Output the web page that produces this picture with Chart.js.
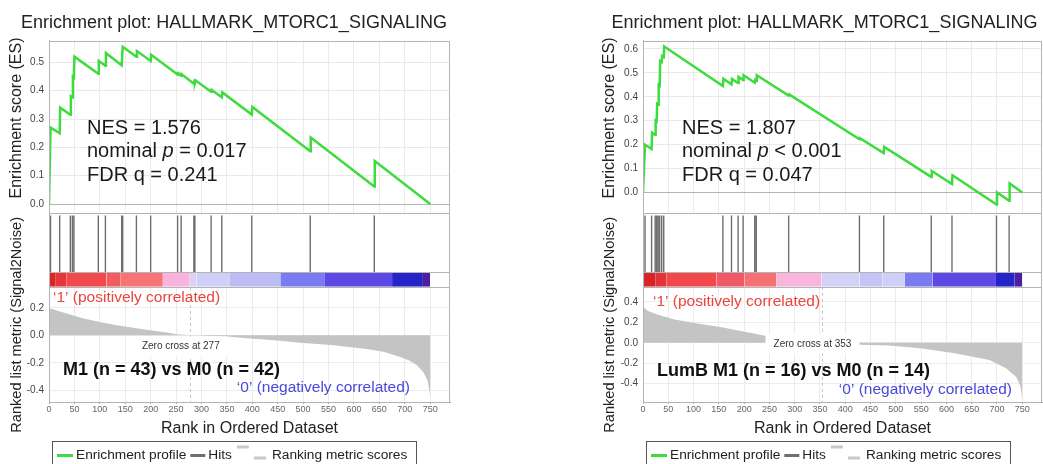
<!DOCTYPE html>
<html>
<head>
<meta charset="utf-8">
<script src="https://cdn.jsdelivr.net/npm/chart.js@4.4.0/dist/chart.umd.min.js"></script>
<style>
  html, body { margin: 0; padding: 0; background: #fff; overflow: hidden; }
  body { width: 1043px; height: 464px; position: relative; }
  canvas { position: absolute; top: 0; }
  #chartLeft { left: 0; }
  #chartRight { left: 590px; }
</style>
</head>
<body>
<canvas id="chartLeft" width="468" height="464"></canvas>
<canvas id="chartRight" width="469" height="464"></canvas>
<script>
// ---- left plot: all samples ----
const esRanksLeft  = [0, 3, 21, 22, 42, 43, 46, 47, 49, 50, 97, 98, 111, 112, 143, 145, 172, 173, 200, 201, 253, 254, 260, 261, 285, 286, 287, 288, 319, 320, 340, 341, 399, 400, 514, 515, 640, 641, 750];
const esScoresLeft = [0, 0.27, 0.25, 0.34, 0.315, 0.38, 0.376, 0.45, 0.447, 0.52, 0.46, 0.505, 0.488, 0.533, 0.49, 0.555, 0.52, 0.54, 0.505, 0.527, 0.457, 0.462, 0.453, 0.458, 0.425, 0.432, 0.43, 0.437, 0.396, 0.403, 0.377, 0.394, 0.316, 0.343, 0.186, 0.235, 0.062, 0.152, 0];
const hitRanksLeft = [3, 21, 42, 46, 49, 97, 111, 143, 145, 172, 200, 253, 260, 285, 287, 319, 340, 399, 514, 640];
const metricRanksLeft  = [0, 8, 20, 35, 68, 100, 133, 169, 199, 232, 251, 277, 320, 355, 396, 450, 494, 560, 625, 658, 691, 710, 724, 737, 745, 750];
const metricScoresLeft = [0.195, 0.19, 0.175, 0.159, 0.122, 0.098, 0.074, 0.054, 0.037, 0.02, 0.008, 0, -0.005, -0.01, -0.023, -0.038, -0.053, -0.072, -0.1, -0.12, -0.157, -0.185, -0.218, -0.27, -0.33, -0.44];
const colorEdgesLeft = [0, 12, 35, 113, 140, 224, 277, 290, 356, 455, 543, 675, 734, 750];
const colorFillsLeft = ['#d92428', '#e8363a', '#f14a4e', '#f35c60', '#f67476', '#f8b4dc', '#ddd0f4', '#cfd0f8', '#bdbdf6', '#7b7bf1', '#5b48e5', '#2424c8', '#4a1fa6'];
const zeroCrossLeft = 277;
const statsLeft = ['NES = 1.576', 'nominal |p| = 0.017', 'FDR q = 0.241'];
const groupLeft = 'M1 (n = 43) vs M0 (n = 42)';

// ---- right plot: LumB ----
const esRanksRight  = [0, 4, 17, 18, 24, 25, 27, 28, 30, 31, 33, 34, 37, 38, 41, 42, 158, 159, 175, 176, 188, 189, 198, 199, 221, 222, 224, 225, 288, 289, 428, 429, 476, 477, 570, 571, 611, 612, 699, 700, 724, 725, 750];
const esScoresRight = [0, 0.2, 0.182, 0.25, 0.241, 0.3, 0.297, 0.37, 0.367, 0.45, 0.447, 0.55, 0.546, 0.57, 0.566, 0.61, 0.445, 0.475, 0.452, 0.475, 0.458, 0.483, 0.47, 0.49, 0.459, 0.47, 0.466, 0.49, 0.405, 0.41, 0.222, 0.227, 0.165, 0.19, 0.065, 0.09, 0.035, 0.072, -0.05, 0, -0.035, 0.038, 0];
const hitRanksRight = [4, 17, 24, 27, 30, 33, 37, 41, 158, 175, 188, 198, 221, 224, 288, 428, 476, 570, 611, 699, 724];
const metricRanksRight  = [0, 10, 27, 60, 93, 158, 224, 243, 300, 353, 428, 487, 553, 619, 685, 718, 738, 746, 750];
const metricScoresRight = [0.35, 0.31, 0.28, 0.23, 0.2, 0.15, 0.085, 0.065, 0.03, 0, -0.02, -0.028, -0.057, -0.106, -0.17, -0.25, -0.335, -0.42, -0.545];
const colorEdgesRight = [0, 24, 47, 145, 201, 264, 353, 428, 474, 517, 573, 698, 734, 750];
const colorFillsRight = ['#d82428', '#e23438', '#f2484c', '#f05a66', '#f57274', '#f8b6dc', '#d2d2f8', '#c4c4f5', '#cfd0f8', '#7b7bf1', '#5b48e5', '#2424c8', '#4a1fa6'];
const zeroCrossRight = 353;
const statsRight = ['NES = 1.807', 'nominal |p| < 0.001', 'FDR q = 0.047'];
const groupRight = 'LumB M1 (n = 16) vs M0 (n = 14)';

// ---- shared labels ----
const plotTitle = 'Enrichment plot: HALLMARK_MTORC1_SIGNALING';
const legendNames = ['Enrichment profile', 'Hits', 'Ranking metric scores'];
const legendColors = ['#3ddc3d', '#6e6e6e', '#c8c8c8'];

const FONT = "'Liberation Sans', Arial, sans-serif";
Chart.defaults.font.family = FONT;
Chart.defaults.color = '#222';

const HIT_LOW = 0.2, HIT_HIGH = 0.97;

function drawMixed(ctx, line, x, y, size) {
  // parts between | are drawn italic
  const parts = line.split('|');
  let cx = x;
  parts.forEach((p, i) => {
    ctx.font = (i % 2 ? 'italic ' : '') + size + 'px ' + FONT;
    ctx.fillText(p, cx, y);
    cx += ctx.measureText(p).width;
  });
}

function makeGsea(id, d, look) {
  const datasets = [
    {
      label: legendNames[0], yAxisID: 'yES',
      data: d.esRanks.map((r, i) => ({x: r, y: d.esScores[i]})),
      borderColor: legendColors[0], borderWidth: 2.5, pointRadius: 0, tension: 0, fill: false
    },
    {
      label: legendNames[1], yAxisID: 'yHits',
      data: d.hits.flatMap(r => [{x: r, y: HIT_LOW}, {x: r, y: HIT_HIGH}, {x: r, y: null}]),
      borderColor: legendColors[1], borderWidth: 1.4, pointRadius: 0, spanGaps: false, fill: false
    },
    {
      label: legendNames[2], yAxisID: 'yMetric',
      data: d.metricRanks.map((r, i) => ({x: r, y: d.metricScores[i]})),
      borderColor: 'rgba(0,0,0,0)', borderWidth: 1, backgroundColor: '#c4c4c4',
      pointRadius: 0, tension: 0, fill: 'origin'
    }
  ];
  d.colorFills.forEach((c, i) => {
    datasets.push({
      label: 'bar' + i, yAxisID: 'yHits',
      data: [{x: d.colorEdges[i], y: HIT_LOW}, {x: d.colorEdges[i + 1], y: HIT_LOW}],
      borderColor: 'rgba(0,0,0,0)', borderWidth: 1, backgroundColor: c,
      pointRadius: 0, fill: 'origin'
    });
  });

  const decor = {
    id: 'decor',
    beforeDatasetsDraw(chart) {
      const {ctx, chartArea: a, scales: {x, yHits, yMetric}} = chart;
      ctx.save();
      ctx.fillStyle = '#fff';
      ctx.fillRect(a.left + 1, yHits.top, a.right - a.left - 1, yHits.bottom - yHits.top);
      const zx = x.getPixelForValue(d.zeroCross);
      ctx.strokeStyle = '#c4c4c4';
      ctx.lineWidth = 1;
      ctx.setLineDash([3, 3]);
      ctx.beginPath();
      ctx.moveTo(Math.round(zx) + 0.5, yMetric.top);
      ctx.lineTo(Math.round(zx) + 0.5, yMetric.bottom);
      ctx.stroke();
      ctx.restore();
    },
    afterDatasetsDraw(chart) {
      const {ctx, chartArea: a, scales: {x, yHits, yMetric}} = chart;
      ctx.save();
      // zero cross label
      const zx = x.getPixelForValue(d.zeroCross) + look.zeroDx;
      const zy = yMetric.getPixelForValue(0);
      ctx.fillStyle = '#fff';
      ctx.fillRect(zx - 47, zy + look.zeroBoxTop, 94, 20);
      ctx.fillStyle = '#333';
      ctx.font = '10px ' + FONT;
      ctx.textAlign = 'center';
      ctx.textBaseline = 'middle';
      ctx.fillText('Zero cross at ' + d.zeroCross, zx, zy + look.zeroTextDy);

      // panel separators and frame
      ctx.strokeStyle = '#b4b4b4';
      ctx.lineWidth = 1;
      const hline = (py) => {
        const yy = Math.round(py) + 0.5;
        ctx.beginPath(); ctx.moveTo(a.left, yy); ctx.lineTo(a.right, yy); ctx.stroke();
      };
      hline(yHits.top);
      hline(yHits.getPixelForValue(HIT_LOW));
      hline(yHits.bottom);
      ctx.strokeRect(Math.round(a.left) + 0.5, Math.round(a.top) + 0.5,
        Math.round(a.right - a.left) - 1, Math.round(a.bottom - a.top));

      // statistics block
      ctx.fillStyle = '#1a1a1a';
      ctx.textAlign = 'left';
      d.stats.forEach((line, i) => {
        drawMixed(ctx, line, a.left + look.statsDx, look.statsY + i * 23.5, 20);
      });

      // group comparison and correlation labels
      ctx.font = 'bold 18px ' + FONT;
      ctx.fillStyle = '#111';
      ctx.fillText(d.group, a.left + look.groupDx, look.groupY);
      ctx.font = '15.5px ' + FONT;
      ctx.fillStyle = '#e8453c';
      ctx.fillText('\u20181\u2019 (positively correlated)', a.left + look.posDx, look.posY);
      ctx.fillStyle = '#4848de';
      ctx.textAlign = 'right';
      ctx.fillText('\u20180\u2019 (negatively correlated)', look.negRight, look.negY);
      ctx.restore();
    },
    afterDraw(chart) {
      const {ctx, chartArea: a, scales: {yES, yMetric}} = chart;
      ctx.save();
      ctx.textBaseline = 'middle';

      // plot title
      ctx.fillStyle = '#222';
      ctx.textAlign = 'center';
      ctx.font = '18px ' + FONT;
      ctx.fillText(plotTitle, look.titleCx, 23);

      // legend row with frame
      const ly = 455.5;
      ctx.textAlign = 'left';
      ctx.font = '13.7px ' + FONT;
      let cx = a.left + 8;
      const boxLeft = a.left + 3;
      ctx.fillStyle = legendColors[0];
      ctx.fillRect(cx, ly - 1.5, 16, 3);
      cx += 19;
      ctx.fillStyle = '#222';
      ctx.fillText(legendNames[0], cx, ly);
      cx += ctx.measureText(legendNames[0]).width + 4;
      ctx.fillStyle = legendColors[1];
      ctx.fillRect(cx, ly - 1.5, 15, 3);
      cx += 18;
      ctx.fillStyle = '#222';
      ctx.fillText(legendNames[1], cx, ly);
      cx += ctx.measureText(legendNames[1]).width + 5;
      ctx.fillStyle = legendColors[2];
      ctx.fillRect(cx, ly - 10, 12, 3);
      cx += 17;
      ctx.fillRect(cx, ly + 1, 12, 3);
      cx += 18;
      ctx.fillStyle = '#222';
      ctx.fillText(legendNames[2], cx, ly);
      cx += ctx.measureText(legendNames[2]).width + 9;
      ctx.strokeStyle = '#555';
      ctx.lineWidth = 1;
      ctx.strokeRect(Math.round(boxLeft) + 0.5, 441.5, Math.round(cx - boxLeft), 40);

      // axis titles
      ctx.fillStyle = '#222';
      ctx.textAlign = 'center';
      ctx.font = '16px ' + FONT;
      ctx.translate(look.titleX, (yES.top + yES.bottom) / 2 - 9);
      ctx.rotate(-Math.PI / 2);
      ctx.fillText('Enrichment score (ES)', 0, 0);
      ctx.restore();
      ctx.save();
      ctx.fillStyle = '#222';
      ctx.textAlign = 'center';
      ctx.textBaseline = 'middle';
      ctx.font = '14.6px ' + FONT;
      ctx.translate(look.titleX, yMetric.top + 38);
      ctx.rotate(-Math.PI / 2);
      ctx.fillText('Ranked list metric (Signal2Noise)', 0, 0);
      ctx.restore();
    }
  };

  const fixWidth = s => { s.width = look.axisWidth; };

  return new Chart(document.getElementById(id), {
    type: 'line',
    data: { datasets },
    options: {
      responsive: false,
      animation: false,
      events: [],
      layout: { padding: { left: 0, right: look.padRight, top: 40.6, bottom: 22 } },
      plugins: {
        title: { display: false },
        legend: { display: false },
        tooltip: { enabled: false }
      },
      scales: {
        x: {
          type: 'linear', position: 'bottom', min: 0, max: 789, offset: false,
          ticks: {
            stepSize: 50, includeBounds: false, autoSkip: false, maxRotation: 0,
            font: { size: 9 }, color: '#666', padding: 0
          },
          grid: { color: '#ebebeb', tickLength: 2, tickColor: '#aaa' },
          border: { color: '#aaa' },
          title: {
            display: true, text: 'Rank in Ordered Dataset', color: '#222',
            font: { size: 16 }, padding: { top: 4, bottom: 4 }
          }
        },
        yMetric: {
          type: 'linear', axis: 'y', position: 'left', stack: 'gsea', stackWeight: 115,
          min: d.metricMin, max: d.metricMax,
          ticks: {
            stepSize: 0.2, includeBounds: false, font: { size: 10 }, color: '#444', padding: 5,
            callback: v => v.toFixed(1)
          },
          grid: { color: '#ececec', drawTicks: false },
          border: { color: '#aaa' },
          afterFit: fixWidth
        },
        yHits: {
          type: 'linear', axis: 'y', position: 'left', stack: 'gsea', stackWeight: 73.4,
          min: 0, max: 1,
          ticks: { display: false },
          grid: { display: false, drawTicks: false },
          border: { color: '#aaa' },
          afterFit: fixWidth
        },
        yES: {
          type: 'linear', axis: 'y', position: 'left', stack: 'gsea', stackWeight: 172.6,
          min: d.esMin, max: d.esMax,
          ticks: {
            stepSize: 0.1, includeBounds: false, font: { size: 10 }, color: '#444', padding: 5,
            callback: v => v.toFixed(1)
          },
          grid: {
            drawTicks: false,
            color: c => (c.tick && Math.abs(c.tick.value) < 1e-9) ? '#b4b4b4' : '#e9e9e9'
          },
          border: { color: '#aaa' },
          afterFit: fixWidth
        }
      }
    },
    plugins: [decor]
  });
}

makeGsea('chartLeft', {
  esRanks: esRanksLeft, esScores: esScoresLeft, hits: hitRanksLeft,
  metricRanks: metricRanksLeft, metricScores: metricScoresLeft,
  colorEdges: colorEdgesLeft, colorFills: colorFillsLeft,
  zeroCross: zeroCrossLeft, stats: statsLeft, group: groupLeft,
  esMin: -0.033, esMax: 0.577, metricMin: -0.485, metricMax: 0.353
}, {
  axisWidth: 49, padRight: 18, titleX: 16.5, titleCx: 234,
  statsDx: 38, statsY: 128, groupDx: 14, groupY: 370,
  posDx: 4, posY: 298, negRight: 410, negY: 388,
  zeroDx: -9, zeroTextDy: 10.7, zeroBoxTop: 1
});

makeGsea('chartRight', {
  esRanks: esRanksRight, esScores: esScoresRight, hits: hitRanksRight,
  metricRanks: metricRanksRight, metricScores: metricScoresRight,
  colorEdges: colorEdgesRight, colorFills: colorFillsRight,
  zeroCross: zeroCrossRight, stats: statsRight, group: groupRight,
  esMin: -0.0875, esMax: 0.635, metricMin: -0.58, metricMax: 0.547
}, {
  axisWidth: 53, padRight: 17, titleX: 20, titleCx: 234.5,
  statsDx: 39, statsY: 128, groupDx: 14, groupY: 371,
  posDx: 10, posY: 302, negRight: 422, negY: 390,
  zeroDx: -9, zeroTextDy: 1, zeroBoxTop: -9
});
</script>
</body>
</html>
